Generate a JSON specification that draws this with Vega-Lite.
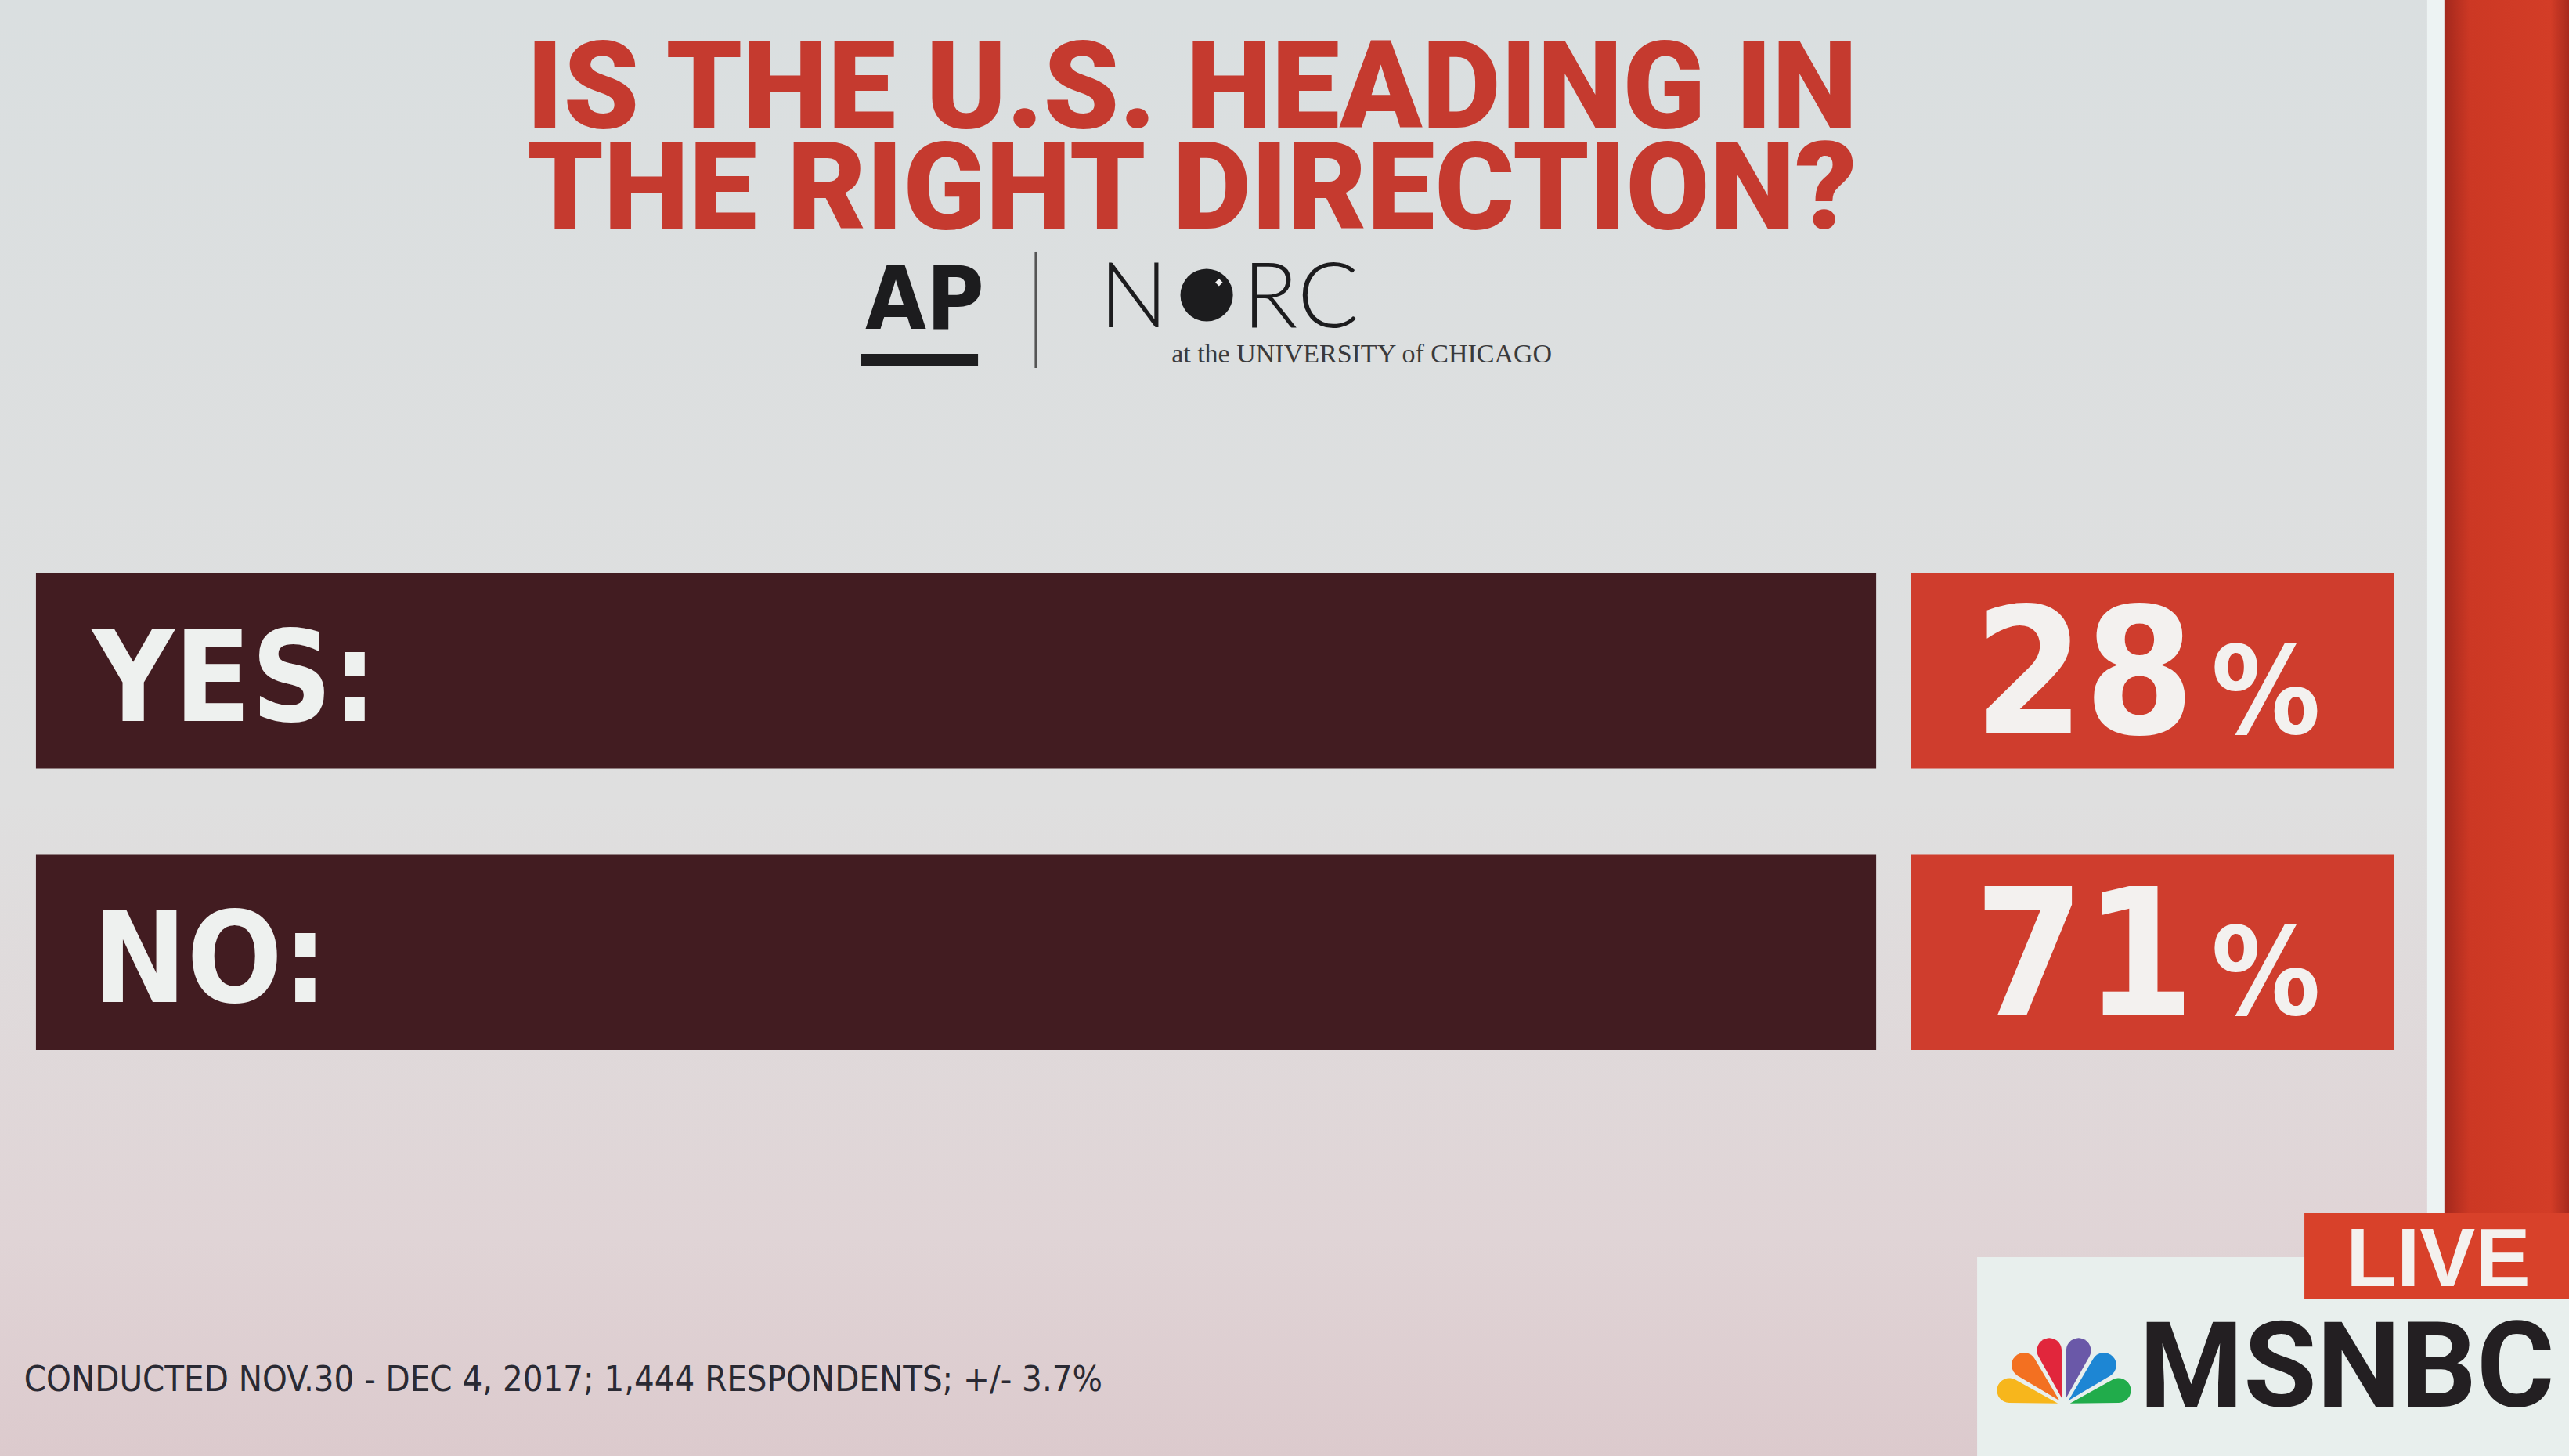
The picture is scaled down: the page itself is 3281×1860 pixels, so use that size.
{
  "$schema": "https://vega.github.io/schema/vega-lite/v6.json",
  "width": 3281,
  "height": 1860,
  "autosize": {"type": "none"},
  "padding": 0,
  "background": "#dcdfdf",
  "config": {"view": {"stroke": null}},
  "datasets": {
    "poll": [
      {"answer": "YES:", "pct": 28},
      {"answer": "NO:", "pct": 71}
    ],
    "peacock": [
      {"feather": "yellow", "order": 1, "share": 1},
      {"feather": "orange", "order": 2, "share": 1},
      {"feather": "red", "order": 3, "share": 1},
      {"feather": "purple", "order": 4, "share": 1},
      {"feather": "blue", "order": 5, "share": 1},
      {"feather": "green", "order": 6, "share": 1}
    ]
  },
  "resolve": {"scale": {"y": "independent"}},
  "layer": [
    {
      "data": {"values": [{}]},
      "layer": [
        {
          "mark": {"type": "rect", "color": {"gradient": "linear", "x1": 0, "y1": 0, "x2": 0, "y2": 1, "stops": [{"offset": 0, "color": "#dadfe0"}, {"offset": 0.55, "color": "#dfdfdf"}, {"offset": 0.85, "color": "#e0d4d6"}, {"offset": 1, "color": "#dccacd"}]}},
          "encoding": {
            "x": {"datum": 0, "type": "quantitative", "scale": {"domain": [0, 100], "nice": false, "zero": false}, "axis": null},
            "x2": {"datum": 94.48},
            "y": {"datum": 0, "type": "quantitative", "scale": {"domain": [0, 100], "reverse": true, "nice": false, "zero": false}, "axis": null},
            "y2": {"datum": 100}
          }
        },
        {
          "mark": {"type": "rect", "color": "#edf3f3"},
          "encoding": {
            "x": {"datum": 94.48, "type": "quantitative"},
            "x2": {"datum": 95.15},
            "y": {"datum": 0, "type": "quantitative"},
            "y2": {"datum": 83.28}
          }
        },
        {
          "mark": {"type": "rect", "color": {"gradient": "linear", "x1": 0, "y1": 0, "x2": 1, "y2": 0, "stops": [{"offset": 0, "color": "#a3281d"}, {"offset": 0.2, "color": "#cc3824"}, {"offset": 0.85, "color": "#d33d27"}, {"offset": 1, "color": "#a8291d"}]}},
          "encoding": {
            "x": {"datum": 95.15, "type": "quantitative"},
            "x2": {"datum": 100},
            "y": {"datum": 0, "type": "quantitative"},
            "y2": {"datum": 83.28}
          }
        }
      ]
    },
    {
      "data": {"name": "poll"},
      "encoding": {
        "y": {"field": "answer", "type": "nominal", "sort": null, "axis": null, "scale": {"domain": ["YES:", "NO:"], "range": [732, 1341], "paddingInner": 0.306, "paddingOuter": 0}}
      },
      "layer": [
        {
          "mark": {"type": "bar", "color": "#421c21"},
          "encoding": {
            "x": {"datum": 1.4, "type": "quantitative"},
            "x2": {"datum": 73.03}
          }
        },
        {
          "mark": {"type": "bar", "color": "#cf3d2d"},
          "encoding": {
            "x": {"datum": 74.37, "type": "quantitative"},
            "x2": {"datum": 93.2}
          }
        },
        {
          "mark": {"type": "text", "align": "left", "baseline": "alphabetic", "dy": 64, "font": "DejaVu Sans Condensed, DejaVu Sans, sans-serif", "fontSize": 160, "fontWeight": "bold", "color": "#eef1ef"},
          "encoding": {
            "x": {"datum": 3.6, "type": "quantitative"},
            "text": {"field": "answer"}
          }
        },
        {
          "mark": {"type": "text", "align": "right", "baseline": "alphabetic", "dy": 80, "font": "DejaVu Sans Condensed, DejaVu Sans, sans-serif", "fontSize": 225, "fontWeight": "bold", "color": "#f3f1ef"},
          "encoding": {
            "x": {"datum": 85.43, "type": "quantitative"},
            "text": {"field": "pct", "type": "quantitative", "format": "d"}
          }
        },
        {
          "mark": {"type": "text", "align": "left", "baseline": "alphabetic", "dy": 80, "font": "DejaVu Sans Condensed, DejaVu Sans, sans-serif", "fontSize": 155, "fontWeight": "bold", "color": "#f3f1ef", "text": "%"},
          "encoding": {
            "x": {"datum": 86.07, "type": "quantitative"}
          }
        }
      ]
    },
    {
      "data": {"values": [{}]},
      "layer": [
        {
          "mark": {"type": "text", "text": ["IS THE U.S. HEADING IN", "THE RIGHT DIRECTION?"], "align": "center", "baseline": "alphabetic", "lineHeight": 129, "font": "Roboto", "fontSize": 155, "fontWeight": 900, "color": "#c53a2f"},
          "encoding": {
            "x": {"datum": 46.4, "type": "quantitative"},
            "y": {"datum": 8.76, "type": "quantitative", "scale": {"domain": [0, 100], "reverse": true, "nice": false, "zero": false}, "axis": null}
          }
        },
        {
          "mark": {"type": "text", "text": "AP", "align": "left", "baseline": "alphabetic", "font": "DejaVu Sans Condensed, DejaVu Sans, sans-serif", "fontSize": 112, "fontWeight": "bold", "color": "#1c1c1e"},
          "encoding": {
            "x": {"datum": 33.68, "type": "quantitative"},
            "y": {"datum": 22.58, "type": "quantitative"}
          }
        },
        {
          "mark": {"type": "rect", "color": "#1e1e20"},
          "encoding": {
            "x": {"datum": 33.5, "type": "quantitative"},
            "x2": {"datum": 38.07},
            "y": {"datum": 24.3, "type": "quantitative"},
            "y2": {"datum": 25.11}
          }
        },
        {
          "mark": {"type": "rule", "color": "#555555", "strokeWidth": 3},
          "encoding": {
            "x": {"datum": 40.32, "type": "quantitative"},
            "y": {"datum": 17.31, "type": "quantitative"},
            "y2": {"datum": 25.27}
          }
        },
        {
          "mark": {"type": "text", "text": "N", "align": "left", "baseline": "alphabetic", "font": "Lato", "fontSize": 116, "fontWeight": 300, "color": "#1c1c1e"},
          "encoding": {
            "x": {"datum": 42.79, "type": "quantitative"},
            "y": {"datum": 22.47, "type": "quantitative"}
          }
        },
        {
          "mark": {"type": "point", "shape": "circle", "filled": true, "size": 4500, "color": "#1c1c1e", "opacity": 1},
          "encoding": {
            "x": {"datum": 46.97, "type": "quantitative"},
            "y": {"datum": 20.27, "type": "quantitative"}
          }
        },
        {
          "mark": {"type": "point", "shape": "diamond", "filled": true, "size": 90, "color": "#f2f2f2", "opacity": 1},
          "encoding": {
            "x": {"datum": 47.45, "type": "quantitative"},
            "y": {"datum": 19.4, "type": "quantitative"}
          }
        },
        {
          "mark": {"type": "text", "text": "RC", "align": "left", "baseline": "alphabetic", "font": "Lato", "fontSize": 116, "fontWeight": 300, "color": "#1c1c1e"},
          "encoding": {
            "x": {"datum": 48.37, "type": "quantitative"},
            "y": {"datum": 22.47, "type": "quantitative"}
          }
        },
        {
          "mark": {"type": "text", "text": "at the UNIVERSITY of CHICAGO", "align": "left", "baseline": "alphabetic", "font": "Liberation Serif", "fontSize": 34, "color": "#3a3a3c"},
          "encoding": {
            "x": {"datum": 45.6, "type": "quantitative"},
            "y": {"datum": 24.89, "type": "quantitative"}
          }
        },
        {
          "mark": {"type": "text", "text": "CONDUCTED NOV.30 - DEC 4, 2017; 1,444 RESPONDENTS; +/- 3.7%", "align": "left", "baseline": "alphabetic", "font": "DejaVu Sans Condensed, DejaVu Sans, sans-serif", "fontSize": 45, "color": "#2a2a33"},
          "encoding": {
            "x": {"datum": 0.94, "type": "quantitative"},
            "y": {"datum": 95.54, "type": "quantitative"}
          }
        },
        {
          "mark": {"type": "rect", "color": "#e8efed"},
          "encoding": {
            "x": {"datum": 76.96, "type": "quantitative"},
            "x2": {"datum": 100},
            "y": {"datum": 86.34, "type": "quantitative"},
            "y2": {"datum": 100}
          }
        },
        {
          "mark": {"type": "rect", "color": "#d8412a"},
          "encoding": {
            "x": {"datum": 89.7, "type": "quantitative"},
            "x2": {"datum": 100},
            "y": {"datum": 83.28, "type": "quantitative"},
            "y2": {"datum": 89.19}
          }
        },
        {
          "mark": {"type": "text", "text": "LIVE", "align": "center", "baseline": "alphabetic", "font": "Liberation Sans", "fontSize": 106, "fontWeight": "bold", "color": "#f4f1ee"},
          "encoding": {
            "x": {"datum": 94.91, "type": "quantitative"},
            "y": {"datum": 88.33, "type": "quantitative"}
          }
        },
        {
          "mark": {"type": "text", "text": "MSNBC", "align": "left", "baseline": "alphabetic", "font": "Roboto", "fontSize": 152, "fontWeight": "bold", "color": "#231f22"},
          "encoding": {
            "x": {"datum": 83.27, "type": "quantitative"},
            "y": {"datum": 96.61, "type": "quantitative"}
          }
        },
        {
          "data": {"name": "peacock"},
          "mark": {"type": "arc", "outerRadius": 88, "innerRadius": 8, "padAngle": 0.07, "cornerRadius": 16},
          "encoding": {
            "x": {"datum": 80.34, "type": "quantitative"},
            "y": {"datum": 96.5, "type": "quantitative"},
            "theta": {"field": "share", "type": "quantitative", "stack": true, "scale": {"range": [-1.5708, 1.5708]}},
            "order": {"field": "order"},
            "color": {"field": "feather", "type": "nominal", "legend": null, "scale": {"domain": ["yellow", "orange", "red", "purple", "blue", "green"], "range": ["#f7b61c", "#f37021", "#e1263c", "#6a58a8", "#1d86d4", "#21ac4b"]}}
          }
        }
      ]
    }
  ]
}
